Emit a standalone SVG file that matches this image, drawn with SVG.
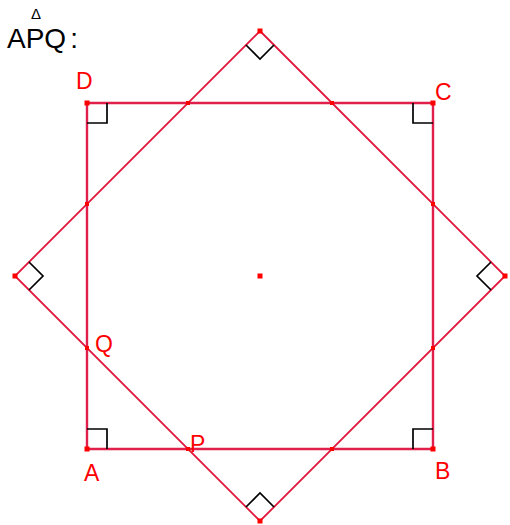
<svg xmlns="http://www.w3.org/2000/svg" width="510" height="525" viewBox="0 0 510 525">
<style>
.sq{fill:none;stroke:#e0204a;stroke-width:2.4}
.rot{fill:none;stroke:#e0183c;stroke-width:1.8}
.ra{fill:none;stroke:#000;stroke-width:1.7}
.pt{fill:#ff0000}
.lbl{font-family:"Liberation Sans",Arial,sans-serif;font-size:23px;fill:#ff0000}
.title{font-family:"Liberation Sans",Arial,sans-serif;fill:#000}
</style>
<rect width="510" height="525" fill="#fff"/>
<g id="title">
<text class="title" x="7" y="48" font-size="28">APQ<tspan dx="4">:</tspan></text>
<text class="title" x="31" y="19" font-size="15">Δ</text>
</g>
<g id="connectors">
<polygon id="square-ABCD" class="sq" points="87,449 433,449 433,103 87,103"/>
<polygon id="rotated-square" class="rot" points="260,31 505,276 260,521 15,276"/>
</g>
<g id="right-angles">
<polyline class="ra" points="87,429 107,429 107,449"/>
<polyline class="ra" points="413,449 413,429 433,429"/>
<polyline class="ra" points="413,103 413,123 433,123"/>
<polyline class="ra" points="107,103 107,123 87,123"/>
<polyline class="ra" points="246,45 260,59 274,45"/>
<polyline class="ra" points="29,262 43,276 29,290"/>
<polyline class="ra" points="491,262 477,276 491,290"/>
<polyline class="ra" points="246,507 260,493 274,507"/>
</g>
<g id="points">
<rect class="pt" x="84.5" y="446.5" width="5" height="5"/>
<rect class="pt" x="430.5" y="446.5" width="5" height="5"/>
<rect class="pt" x="430.5" y="100.5" width="5" height="5"/>
<rect class="pt" x="84.5" y="100.5" width="5" height="5"/>
<rect class="pt" x="257.5" y="28.5" width="5" height="5"/>
<rect class="pt" x="502.5" y="273.5" width="5" height="5"/>
<rect class="pt" x="257.5" y="518.5" width="5" height="5"/>
<rect class="pt" x="12.5" y="273.5" width="5" height="5"/>
<rect class="pt" x="257.5" y="273.5" width="5" height="5"/>
<rect class="pt" x="186" y="101" width="4" height="4"/>
<rect class="pt" x="330" y="101" width="4" height="4"/>
<rect class="pt" x="431" y="202" width="4" height="4"/>
<rect class="pt" x="431" y="346" width="4" height="4"/>
<rect class="pt" x="330" y="447" width="4" height="4"/>
<rect class="pt" x="186" y="447" width="4" height="4"/>
<rect class="pt" x="85" y="346" width="4" height="4"/>
<rect class="pt" x="85" y="202" width="4" height="4"/>
</g>
<g id="node-D"><text class="lbl" x="76" y="89">D</text></g>
<g id="node-C"><text class="lbl" x="435" y="100">C</text></g>
<g id="node-Q"><text class="lbl" x="95" y="352">Q</text></g>
<g id="node-A"><text class="lbl" x="84" y="481">A</text></g>
<g id="node-P"><text class="lbl" x="190" y="452">P</text></g>
<g id="node-B"><text class="lbl" x="435" y="479">B</text></g>
</svg>
